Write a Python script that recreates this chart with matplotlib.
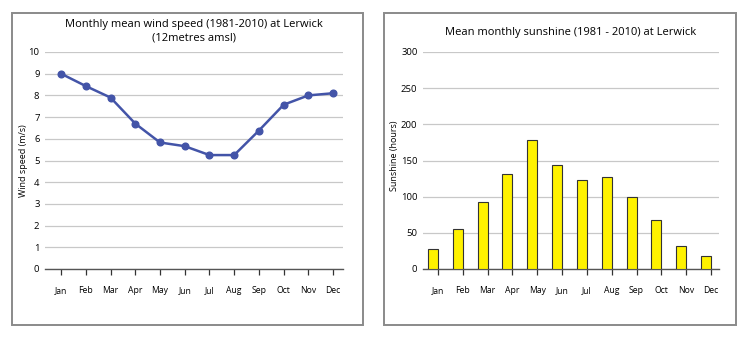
import numpy as np
import matplotlib
matplotlib.use("Agg")
import matplotlib.pyplot as plt
from matplotlib.patches import Rectangle

plt.rcParams['font.family'] = ['Open Sans', 'DejaVu Sans']

months = ["Jan", "Feb", "Mar", "Apr", "May", "Jun",
          "Jul", "Aug", "Sep", "Oct", "Nov", "Dec"]
# mean wind speed, m/s
wind = [9.0, 8.43, 7.9, 6.7, 5.83, 5.66, 5.25, 5.25, 6.38, 7.57, 8.0, 8.1]
# mean sunshine, hours
sunshine = [27, 55, 93, 131, 179, 144, 123, 127, 100, 68, 32, 18]

W, H = 750, 340
fig = plt.figure(figsize=(W / 100, H / 100), dpi=100)

def px_axes(x0, y_top, x1, y_bot):
    return fig.add_axes([x0 / W, 1 - y_bot / H, (x1 - x0) / W, (y_bot - y_top) / H])

# panel frames
for x0, x1 in [(12, 363), (384, 736)]:
    fig.patches.append(Rectangle((x0 / W, 1 - 325 / H), (x1 - x0) / W, (325 - 13) / H,
                                 transform=fig.transFigure, fill=False,
                                 edgecolor="#8a8a8a", linewidth=1.4))

def style(ax):
    ax.grid(axis="y", color="#c8c8c8", linewidth=0.9)
    ax.set_axisbelow(True)
    for s in ["left", "right", "top"]:
        ax.spines[s].set_visible(False)
    ax.spines["bottom"].set_color("#555555")
    ax.spines["bottom"].set_linewidth(1.0)
    ax.tick_params(axis="y", length=0, pad=4, labelsize=6.8)
    ax.tick_params(axis="x", length=4, width=0.9, color="#333333", pad=8, labelsize=6.2)
    ax.set_xticks(np.arange(12))
    ax.set_xticklabels(months)

x = np.arange(12)

# wind speed line chart
ax1 = px_axes(45, 52, 343, 269)
ax1.plot(x, wind, color="#4354a8", linewidth=1.8, marker="o", markersize=4.8, zorder=3)
ax1.set_xlim(-0.65, 11.4)
ax1.set_ylim(0, 10)
ax1.set_yticks(range(0, 11))
style(ax1)
ax1.set_ylabel("Wind speed (m/s)", fontsize=6.5)
ax1.yaxis.set_label_coords(-0.058, 0.5)
ax1.set_title("Monthly mean wind speed (1981-2010) at Lerwick\n(12metres amsl)",
              fontsize=8, pad=8, linespacing=1.3)

# sunshine bar chart
ax2 = px_axes(423, 52, 719, 269)
ax2.bar(x, sunshine, width=-0.4, align="edge", color="#fff200",
        edgecolor="#333333", linewidth=0.8, zorder=3)
ax2.set_xlim(-0.6, 11.32)
ax2.set_ylim(0, 300)
ax2.set_yticks(range(0, 301, 50))
style(ax2)
ax2.set_ylabel("Sunshine (hours)", fontsize=6.5)
ax2.yaxis.set_label_coords(-0.082, 0.52)
ax2.set_title("Mean monthly sunshine (1981 - 2010) at Lerwick", fontsize=8, pad=12)

fig.savefig("out.png", dpi=100)
